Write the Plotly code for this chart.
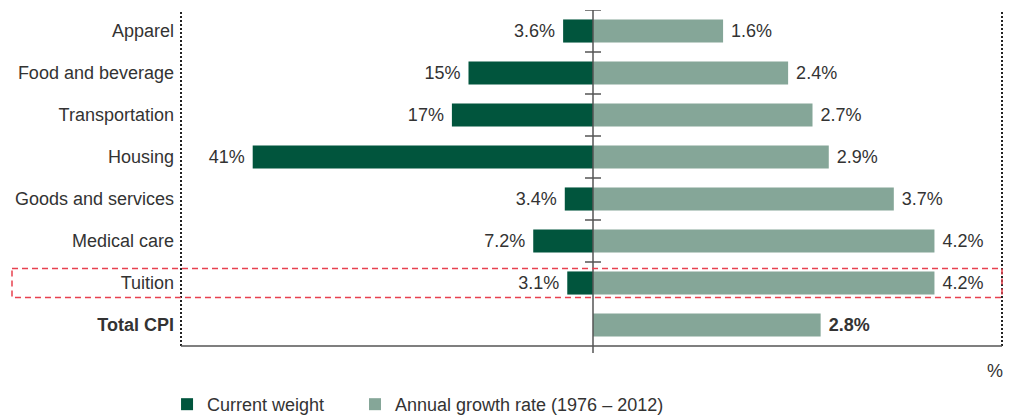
import plotly.graph_objects as go

# ---- data ----
categories = ["Apparel", "Food and beverage", "Transportation", "Housing",
              "Goods and services", "Medical care", "Tuition", "Total CPI"]
current_weight = [3.6, 15, 17, 41, 3.4, 7.2, 3.1, None]
growth_rate = [1.6, 2.4, 2.7, 2.9, 3.7, 4.2, 4.2, 2.8]
series_names = ["Current weight", "Annual growth rate (1976 \u2013 2012)"]
highlight = "Tuition"
total_label = "Total CPI"
unit_label = "%"

# ---- styles ----
OFF = 8                     # page body margin
W, H = 1016 - OFF, 416 - OFF
ML, MT = 181 - OFF, 10 - OFF
PW, PH = 821, 336
MR, MB = W - ML - PW, H - MT - PH
CENTER_PX = 412            # distance of the zero line from plot left edge
RIGHT_PX_PER_UNIT = 81.3
LEFT_PX_PER_UNIT = 8.3
DARK = "#01553d"
LIGHT = "#85a698"
TEXT = "#333333"
FONT = "Liberation Sans, Arial, sans-serif"
FS = 18

def fmt(v):
    return f"{v:g}%"

weight_text = [("" if v is None else fmt(v) + " ") for v in current_weight]
growth_text = [(" <b>" + fmt(v) + "</b>" if c == total_label else " " + fmt(v))
               for c, v in zip(categories, growth_rate)]
tick_text = [("<b>" + c + "</b>" if c == total_label else c) for c in categories]

fig = go.Figure()
fig.add_trace(go.Bar(
    y=categories, x=current_weight, orientation="h", name=series_names[0],
    marker=dict(color=DARK, line=dict(width=0)), width=0.55,
    text=weight_text, textposition="outside", constraintext="none",
    textfont=dict(family=FONT, size=FS, color=TEXT), cliponaxis=False,
    xaxis="x2", yaxis="y", hoverinfo="skip", legend="legend"))
fig.add_trace(go.Bar(
    y=categories, x=growth_rate, orientation="h", name=series_names[1],
    marker=dict(color=LIGHT, line=dict(width=0)), width=0.55,
    text=growth_text, textposition="outside", constraintext="none",
    textfont=dict(family=FONT, size=FS, color=TEXT), cliponaxis=False,
    xaxis="x", yaxis="y", hoverinfo="skip", legend="legend2"))

right_px = PW - CENTER_PX
legend_style = dict(orientation="h", xanchor="left", y=-0.119, yanchor="top",
                    font=dict(family=FONT, size=FS, color=TEXT),
                    bgcolor="rgba(0,0,0,0)")
fig.update_layout(
    width=W, height=H,
    margin=dict(l=ML, r=MR, t=MT, b=MB, autoexpand=False),
    paper_bgcolor="white", plot_bgcolor="white",
    barmode="overlay",
    font=dict(family=FONT, size=FS, color=TEXT),
    xaxis=dict(range=[-CENTER_PX / RIGHT_PX_PER_UNIT, right_px / RIGHT_PX_PER_UNIT],
               visible=False, fixedrange=True),
    xaxis2=dict(range=[CENTER_PX / LEFT_PX_PER_UNIT, -right_px / LEFT_PX_PER_UNIT],
                overlaying="x", visible=False, fixedrange=True),
    yaxis=dict(categoryorder="array", categoryarray=categories,
               tickvals=categories, ticktext=tick_text,
               range=[len(categories) - 0.5, -0.5],
               showgrid=False, zeroline=False, showline=False, ticks="",
               ticklabelstandoff=6, tickfont=dict(family=FONT, size=FS, color=TEXT)),
    legend=dict(x=-0.017, **legend_style),
    legend2=dict(x=(355 - 181) / PW, **legend_style),
    showlegend=True,
)

shapes = []
# dotted frame sides
for xp in (0, 1):
    shapes.append(dict(type="line", xref="paper", yref="paper", x0=xp, x1=xp, y0=0, y1=1,
                       line=dict(color="#222222", width=2, dash="2px,2px")))
# bottom axis line
shapes.append(dict(type="line", xref="paper", yref="paper", x0=0, x1=1, y0=0, y1=0,
                   line=dict(color="#555555", width=1.5)))
# zero line
shapes.append(dict(type="line", xref="x", yref="paper", x0=0, x1=0, y0=-7 / PH, y1=1,
                   line=dict(color="#555555", width=1.5)))
# ticks on zero line at category boundaries
for i in range(len(categories) - 1):
    shapes.append(dict(type="line", xref="x", yref="y", xsizemode="pixel", xanchor=0,
                       x0=-8, x1=8, y0=i - 0.5, y1=i - 0.5,
                       line=dict(color="#555555", width=1.5)))
# highlight box
hi = categories.index(highlight)
shapes.append(dict(type="rect", xref="paper", yref="y", x0=(12 - 181) / PW, x1=1,
                   y0=hi - 0.345, y1=hi + 0.345,
                   line=dict(color="#e8414f", width=1.5, dash="6px,4px"),
                   fillcolor="rgba(0,0,0,0)", layer="above"))
fig.update_layout(shapes=shapes)

fig.add_annotation(text=unit_label, xref="paper", yref="paper",
                   x=(995 - 181) / PW, y=-(371 - 346) / PH,
                   xanchor="center", yanchor="middle", showarrow=False,
                   font=dict(family=FONT, size=FS, color=TEXT))

fig.write_html("out.html")
